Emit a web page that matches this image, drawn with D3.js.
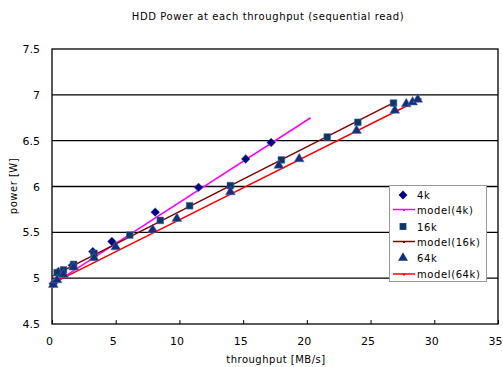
<!DOCTYPE html>
<html><head><meta charset="utf-8">
<script src="https://cdn.jsdelivr.net/npm/d3@7"></script>
<style>
body{margin:0;background:#fff;}
text{font-family:"DejaVu Sans",sans-serif;fill:#000;}
</style></head>
<body>
<svg id="c" width="503" height="367"></svg>
<script>
const xTicks=[0,5,10,15,20,25,30,35];
const yTicks=[4.5,5,5.5,6,6.5,7,7.5];
const x4k=[0.1,0.5,1.6,3.2,4.7,8.1,11.5,15.2,17.2];
const y4k=[4.94,5.07,5.14,5.29,5.40,5.72,5.99,6.30,6.48];
const x16k=[0.4,0.9,1.7,3.3,6.1,8.5,10.8,14.0,18.0,21.6,24.0,26.8];
const y16k=[5.06,5.09,5.15,5.27,5.47,5.63,5.79,6.01,6.29,6.54,6.70,6.91];
const x64k=[0.1,0.4,0.9,1.7,3.3,5.0,7.9,9.8,14.0,17.8,19.4,23.9,26.9,27.8,28.3,28.7];
const y64k=[4.93,4.98,5.04,5.12,5.22,5.34,5.53,5.65,5.94,6.23,6.30,6.61,6.83,6.90,6.92,6.95];
const xModel4k=[0,20.3], yModel4k=[4.93,6.75];
const xModel16k=[0,26.9], yModel16k=[5.02,6.92];
const xModel64k=[0,29.0], yModel64k=[4.94,6.96];
const legendLabels=["4k","model(4k)","16k","model(16k)","64k","model(64k)"];

const svg=d3.select("#c");
const L=52,T=49,W=446,H=275;
const x=d3.scaleLinear().domain([0,35]).range([L,L+W]);
const y=d3.scaleLinear().domain([4.5,7.5]).range([T+H,T]);

svg.append("text").attr("x",268).attr("y",20).attr("text-anchor","middle")
  .style("font-size","10px").style("letter-spacing","0.6px").text("HDD Power at each throughput (sequential read)");

// gridlines
svg.append("g").selectAll("line").data(yTicks.slice(1,-1)).join("line")
  .attr("x1",L).attr("x2",L+W).attr("y1",d=>y(d)).attr("y2",d=>y(d))
  .attr("stroke","#000").attr("stroke-width",1.3);
svg.append("rect").attr("x",L).attr("y",T).attr("width",W).attr("height",H)
  .attr("fill","none").attr("stroke","#000").attr("stroke-width",1.3);

// axes
const xa=svg.append("g").attr("transform",`translate(0,${T+H})`)
  .call(d3.axisBottom(x).tickValues(xTicks).tickSize(-4).tickPadding(13).tickFormat(d3.format("d")));
xa.select(".domain").remove();
xa.selectAll("text").attr("dx",-3).style("font-size","11px").style("font-family","DejaVu Sans");
const ya=svg.append("g").attr("transform",`translate(${L},0)`)
  .call(d3.axisLeft(y).tickValues(yTicks).tickSize(0).tickPadding(12).tickFormat(d=>d3.format("")(d)));
ya.select(".domain").remove();
ya.selectAll("text").style("font-size","11px").style("font-family","DejaVu Sans");

svg.append("text").attr("x",276).attr("y",363).attr("text-anchor","middle")
  .style("font-size","10px").style("letter-spacing","0.5px").text("throughput [MB/s]");
svg.append("text").attr("transform","translate(17,186) rotate(-90)").attr("text-anchor","middle")
  .style("font-size","10px").style("letter-spacing","0.5px").text("power [W]");

const line=d3.line().x(d=>x(d[0])).y(d=>y(d[1]));
const zip=(a,b)=>a.map((v,i)=>[v,b[i]]);
svg.append("path").attr("d",line(zip(xModel4k,yModel4k))).attr("stroke","#ff00ff").attr("stroke-width",1.5).attr("fill","none");
svg.append("path").attr("d",line(zip(xModel16k,yModel16k))).attr("stroke","#800000").attr("stroke-width",1.5).attr("fill","none");
svg.append("path").attr("d",line(zip(xModel64k,yModel64k))).attr("stroke","#ff0000").attr("stroke-width",1.5).attr("fill","none");

const sym={diamond:d3.symbol().type(d3.symbolDiamond2).size(50),
  square:d3.symbol().type(d3.symbolSquare).size(46),
  triangle:d3.symbol().type(d3.symbolTriangle).size(42)};
function pts(xs,ys,s,c){
  svg.append("g").selectAll("path").data(zip(xs,ys)).join("path")
    .attr("d",sym[s]()).attr("transform",d=>`translate(${x(d[0])},${y(d[1])})`)
    .attr("fill",c).attr("stroke","#5a6fae").attr("stroke-width",0.5);
}
pts(x4k,y4k,"diamond","#000080");
pts(x16k,y16k,"square","#0b3767");
pts(x64k,y64k,"triangle","#12307a");

// legend
const lg=svg.append("g");
lg.append("rect").attr("x",389.5).attr("y",185.5).attr("width",97).attr("height",96)
  .attr("fill","#fff").attr("stroke","#999").attr("stroke-width",1);
const ly=[195,209.5,226.5,241.5,258,274];
const kinds=[["diamond","#000080"],["line","#ff00ff"],["square","#0b3767"],["line","#800000"],["triangle","#12307a"],["line","#ff0000"]];
legendLabels.forEach((lab,i)=>{
  const k=kinds[i];
  if(k[0]==="line"){
    lg.append("line").attr("x1",393).attr("x2",415).attr("y1",ly[i]).attr("y2",ly[i]).attr("stroke",k[1]).attr("stroke-width",1.5);
    lg.append("rect").attr("x",403).attr("y",ly[i]-0.5).attr("width",2).attr("height",2).attr("fill",k[1]);
  } else {
    lg.append("path").attr("d",sym[k[0]]()).attr("transform",`translate(403,${ly[i]})`).attr("fill",k[1]);
  }
  lg.append("text").attr("x",417).attr("y",ly[i]+4).style("font-size","10px").style("letter-spacing","0.6px").text(lab);
});
</script>
</body></html>
